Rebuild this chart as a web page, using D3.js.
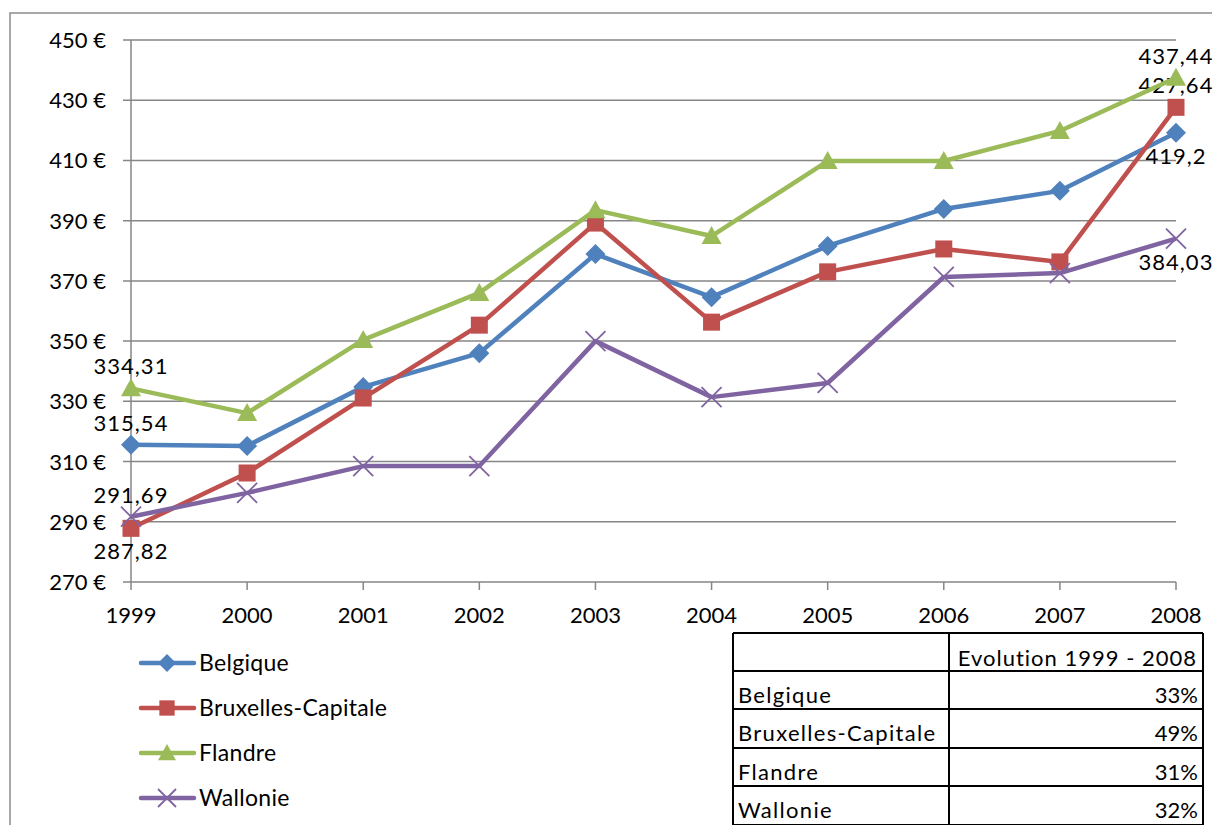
<!DOCTYPE html>
<html>
<head>
<meta charset="utf-8">
<script src="https://cdn.jsdelivr.net/npm/d3@7"></script>
<style>
  body { margin: 0; background: #fff; }
  svg { display: block; font-family: Lato, "Open Sans", sans-serif; }
</style>
</head>
<body>
<svg id="chart" width="1212" height="825"></svg>
<script>
const years = [1999, 2000, 2001, 2002, 2003, 2004, 2005, 2006, 2007, 2008];
const belgique = [315.54, 315.2, 334.8, 346.0, 378.9, 364.6, 381.6, 393.9, 399.9, 419.2];
const bruxelles = [287.82, 306.2, 331.1, 355.3, 389.2, 356.3, 373.0, 380.6, 376.3, 427.64];
const flandre = [334.31, 326.1, 350.4, 366.0, 393.5, 384.9, 409.8, 409.8, 419.8, 437.44];
const wallonie = [291.69, 299.6, 308.5, 308.5, 350.0, 331.4, 336.1, 371.3, 372.6, 384.03];
const yTicks = [270, 290, 310, 330, 350, 370, 390, 410, 430, 450];
const tableRows = ["Belgique", "Bruxelles-Capitale", "Flandre", "Wallonie"];
const evolution = ["33%", "49%", "31%", "32%"];

const series = [
    {name: "Belgique", values: belgique, color: "#4F81BD", marker: "diamond", labelPos: ["above", "below"]},
    {name: "Bruxelles-Capitale", values: bruxelles, color: "#C0504D", marker: "square", labelPos: ["below", "above"]},
    {name: "Flandre", values: flandre, color: "#9BBB59", marker: "triangle", labelPos: ["above", "above"]},
    {name: "Wallonie", values: wallonie, color: "#8064A2", marker: "cross", labelPos: ["above", "below"]}
];

const svg = d3.select("#chart");

// outer chart border
svg.append("rect")
    .attr("x", 10).attr("y", 13)
    .attr("width", 1230).attr("height", 840)
    .attr("fill", "none").attr("stroke", "#8c8c8c").attr("stroke-width", 1.5);

const x = d3.scalePoint().domain(years).range([131, 1176]);
const y = d3.scaleLinear().domain([270, 450]).range([582, 40]);

// gridlines
svg.append("g").selectAll("line")
    .data(yTicks)
    .join("line")
    .attr("x1", 123).attr("x2", 1176)
    .attr("y1", d => y(d)).attr("y2", d => y(d))
    .attr("stroke", "#868686").attr("stroke-width", 1.5);

// y axis
svg.append("line")
    .attr("x1", 131).attr("x2", 131).attr("y1", 40).attr("y2", 582)
    .attr("stroke", "#868686").attr("stroke-width", 1.5);

svg.append("g").selectAll("text")
    .data(yTicks)
    .join("text")
    .attr("x", 106).attr("y", d => y(d) + 8)
    .attr("text-anchor", "end")
    .attr("font-size", 22)
    .text(d => d + " €");

// x axis ticks and labels
svg.append("g").selectAll("line")
    .data(years)
    .join("line")
    .attr("x1", d => x(d)).attr("x2", d => x(d))
    .attr("y1", 582).attr("y2", 590)
    .attr("stroke", "#868686").attr("stroke-width", 1.5);

svg.append("g").selectAll("text")
    .data(years)
    .join("text")
    .attr("x", d => x(d)).attr("y", 623)
    .attr("text-anchor", "middle")
    .attr("font-size", 22)
    .text(d => d);

function drawMarker(g, type, color, size) {
    if (type === "diamond") {
        g.append("path").attr("d", `M0,${-size}L${size},0L0,${size}L${-size},0Z`).attr("fill", color);
    } else if (type === "square") {
        g.append("rect").attr("x", -size * 0.85).attr("y", -size * 0.85)
            .attr("width", size * 1.7).attr("height", size * 1.7).attr("fill", color);
    } else if (type === "triangle") {
        g.append("path").attr("d", `M0,${-size}L${size},${size * 0.8}L${-size},${size * 0.8}Z`).attr("fill", color);
    } else if (type === "cross") {
        g.append("path").attr("d", `M${-size},${-size}L${size},${size}M${-size},${size}L${size},${-size}`)
            .attr("stroke", color).attr("stroke-width", 1.8);
    }
}

const line = d3.line()
    .x((d, i) => x(years[i]))
    .y(d => y(d));

series.forEach(s => {
    svg.append("path")
        .datum(s.values)
        .attr("fill", "none")
        .attr("stroke", s.color)
        .attr("stroke-width", 4.5)
        .attr("stroke-linejoin", "round")
        .attr("d", line);

    s.values.forEach((v, i) => {
        const g = svg.append("g").attr("transform", `translate(${x(years[i])},${y(v)})`);
        drawMarker(g, s.marker, s.color, 10);
    });

    // labels on first and last points
    [0, s.values.length - 1].forEach((i, k) => {
        const v = s.values[i];
        const above = s.labelPos[k] === "above";
        svg.append("text")
            .attr("x", x(years[i]))
            .attr("y", y(v) + (above ? -14 : 31))
            .attr("text-anchor", "middle")
            .attr("font-size", 22)
            .attr("letter-spacing", 1)
            .text(String(v).replace(".", ","));
    });
});

// legend
const legend = svg.append("g");
series.forEach((s, i) => {
    const ly = 663 + i * 45;
    legend.append("line")
        .attr("x1", 141).attr("x2", 194).attr("y1", ly).attr("y2", ly)
        .attr("stroke", s.color).attr("stroke-width", 4.5).attr("stroke-linecap", "round");
    const g = legend.append("g").attr("transform", `translate(167,${ly})`);
    drawMarker(g, s.marker, s.color, 9);
    legend.append("text")
        .attr("x", 199).attr("y", ly + 8)
        .attr("font-size", 23)
        .attr("letter-spacing", 0.3)
        .text(s.name);
});

// table
const table = svg.append("g");
const tLeft = 733, tMid = 949, tRight = 1203;
const rowY = [633, 671, 709, 748, 786, 825];
table.append("g").selectAll("line")
    .data(rowY)
    .join("line")
    .attr("x1", tLeft).attr("x2", tRight)
    .attr("y1", d => d).attr("y2", d => d)
    .attr("stroke", "#000").attr("stroke-width", 2);
[tLeft, tMid, tRight].forEach(xx => {
    table.append("line")
        .attr("x1", xx).attr("x2", xx).attr("y1", 633).attr("y2", 830)
        .attr("stroke", "#000").attr("stroke-width", 2);
});
table.append("text")
    .attr("x", tRight - 6).attr("y", 666)
    .attr("text-anchor", "end").attr("font-size", 22)
    .attr("letter-spacing", 1)
    .text("Evolution 1999 - 2008");
tableRows.forEach((r, i) => {
    table.append("text")
        .attr("x", tLeft + 5).attr("y", rowY[i + 1] + 32)
        .attr("font-size", 22).attr("letter-spacing", 1.3)
        .text(r);
    table.append("text")
        .attr("x", tRight - 5).attr("y", rowY[i + 1] + 32)
        .attr("text-anchor", "end").attr("font-size", 22)
        .text(evolution[i]);
});
</script>
</body>
</html>
